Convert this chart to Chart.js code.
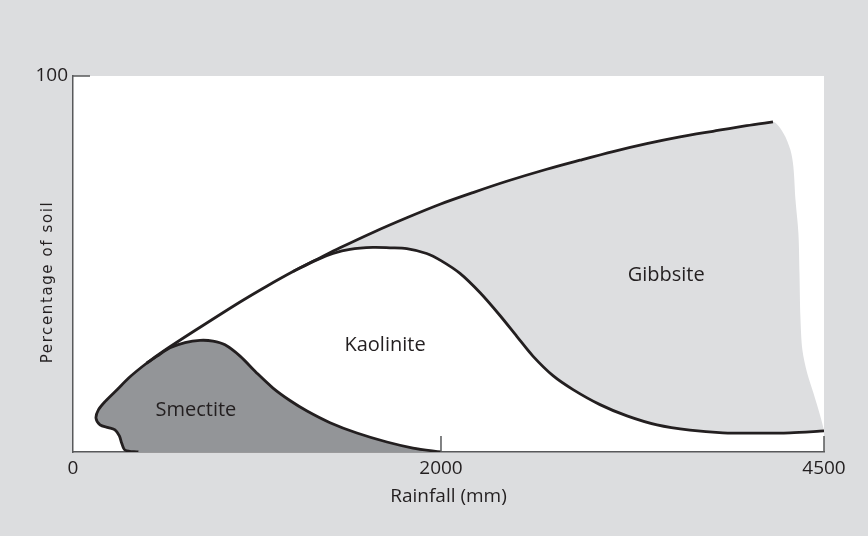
<!DOCTYPE html>
<html>
<head>
<meta charset="utf-8">
<title>Clay minerals and rainfall</title>
<script src="https://cdn.jsdelivr.net/npm/chart.js@4.4.1/dist/chart.umd.min.js"></script>
<style>
  html, body { margin: 0; padding: 0; background: #dcdddf; }
  canvas { display: block; }
</style>
</head>
<body>
<canvas id="canvas" width="868" height="536"></canvas>
<script>
// rainfall in mm (x), percentage of soil (y)
// outer boundary: starts at the foot of the smectite area, runs round the bump and up to the top right
const envelopeX = [355, 283, 265, 252, 228, 192, 147, 125, 138, 174, 238, 310, 400, 491, 663, 908, 1053, 1196, 1325, 1451, 1630, 1814, 1995, 2209, 2429, 2690, 2907, 3123, 3343, 3560, 3775, 3995, 4167];
const envelopeY = [0, 0.5, 2.3, 4.3, 5.9, 6.5, 7.2, 9.0, 11.2, 13.4, 16.5, 20.0, 23.6, 26.8, 32.3, 39.9, 44.1, 48.0, 51.2, 54.3, 58.4, 62.3, 65.9, 69.0, 72.0, 75.2, 77.6, 79.9, 82.0, 83.8, 85.3, 86.8, 87.8];

// smectite / kaolinite boundary
const smectiteX = [400, 457, 527, 609, 690, 761, 826, 908, 997, 1087, 1179, 1272, 1397, 1543, 1706, 1848, 2000];
const smectiteY = [23.6, 25.5, 27.7, 29.1, 29.7, 29.5, 28.5, 25.5, 21.1, 17.0, 13.7, 10.9, 7.8, 5.05, 2.66, 1.06, 0];

// kaolinite / gibbsite boundary
const kaoliniteX = [1196, 1325, 1413, 1505, 1630, 1723, 1814, 1922, 2000, 2124, 2254, 2385, 2496, 2600, 2731, 2862, 3038, 3214, 3410, 3625, 3840, 4063, 4278, 4500];
const kaoliniteY = [48.0, 51.1, 52.8, 53.9, 54.4, 54.3, 54.1, 52.8, 50.9, 47.5, 42.4, 36.3, 30.7, 25.5, 20.3, 16.6, 12.6, 9.6, 7.2, 5.8, 5.1, 5.0, 5.1, 5.6];

// ragged right edge of the gibbsite area (no line drawn)
const gibbsiteEdgeX = [4235, 4281, 4300, 4314, 4333, 4340, 4346, 4359, 4390, 4431, 4477, 4500];
const gibbsiteEdgeY = [84.8, 80.3, 75.9, 67.0, 58.2, 47.6, 36.0, 27.1, 21.0, 15.7, 9.4, 5.6];

const xTicks = [0, 2000, 4500];
const yTicks = [100];

const regionNames = ['Smectite', 'Kaolinite', 'Gibbsite'];
const regionX = [668, 1696, 3470];
const regionY = [11.2, 28.5, 47.1];

const ink = '#231f20';
const axisColor = '#58595b';

const toPoints = (xs, ys) => xs.map((x, i) => ({x: x, y: ys[i]}));

// the drawing's rainfall axis is not evenly spaced: 2000 sits a bit right of proportional
const xStops = [0, 2000, 4500];
const xStopFrac = [0, 0.49, 1];

class PiecewiseScale extends Chart.LinearScale {
  static id = 'piecewise';
  static defaults = Chart.LinearScale.defaults;
  getPixelForValue(value) {
    if (value === null || value === undefined) return NaN;
    let i = 1;
    while (i < xStops.length - 1 && value > xStops[i]) i++;
    const t = (value - xStops[i - 1]) / (xStops[i] - xStops[i - 1]);
    const f = xStopFrac[i - 1] + t * (xStopFrac[i] - xStopFrac[i - 1]);
    return this.getPixelForDecimal(f);
  }
  getValueForPixel(pixel) {
    const f = this.getDecimalForPixel(pixel);
    let i = 1;
    while (i < xStopFrac.length - 1 && f > xStopFrac[i]) i++;
    const t = (f - xStopFrac[i - 1]) / (xStopFrac[i] - xStopFrac[i - 1]);
    return xStops[i - 1] + t * (xStops[i] - xStops[i - 1]);
  }
}
Chart.register(PiecewiseScale);

const split = envelopeX.indexOf(smectiteX[0]);
const smectiteShape = toPoints(envelopeX.slice(0, split), envelopeY.slice(0, split))
  .concat(toPoints(smectiteX, smectiteY));

const join = envelopeX.indexOf(kaoliniteX[0]);
const gibbsiteShape = toPoints(envelopeX.slice(join), envelopeY.slice(join))
  .concat(toPoints(gibbsiteEdgeX, gibbsiteEdgeY))
  .concat(toPoints(kaoliniteX.slice(0, -1), kaoliniteY.slice(0, -1)).reverse());

const frame = {
  id: 'frame',
  beforeDraw(chart) {
    const {ctx, chartArea: a} = chart;
    ctx.save();
    ctx.fillStyle = '#dcdddf';
    ctx.fillRect(0, 0, chart.width, chart.height);
    ctx.fillStyle = '#ffffff';
    ctx.fillRect(a.left, a.top, a.right - a.left, a.bottom - a.top);
    ctx.restore();
  },
  afterDraw(chart) {
    const {ctx} = chart;
    const x = chart.scales.x, y = chart.scales.y;
    ctx.save();
    // inward ticks
    ctx.strokeStyle = axisColor;
    ctx.lineWidth = 1.5;
    ctx.beginPath();
    yTicks.forEach(v => {
      const py = y.getPixelForValue(v);
      ctx.moveTo(x.left, py);
      ctx.lineTo(x.left + 17, py);
    });
    xTicks.slice(1).forEach(v => {
      const px = x.getPixelForValue(v);
      ctx.moveTo(px, y.bottom);
      ctx.lineTo(px, y.bottom - 16);
    });
    ctx.stroke();

    // region names
    ctx.fillStyle = ink;
    ctx.font = '20px "Open Sans"';
    ctx.textAlign = 'center';
    ctx.textBaseline = 'middle';
    regionNames.forEach((n, i) => {
      ctx.fillText(n, x.getPixelForValue(regionX[i]), y.getPixelForValue(regionY[i]));
    });

    // y title, spaced out like the original
    ctx.translate(52, (y.top + y.bottom) / 2 + 18);
    ctx.rotate(-Math.PI / 2);
    ctx.font = '15px "DejaVu Sans"';
    ctx.letterSpacing = '1.6px';
    ctx.textBaseline = 'alphabetic';
    ctx.fillText('Percentage of soil', 0, 0);
    ctx.restore();
  }
};

const curve = {
  type: 'line',
  fill: false,
  borderColor: ink,
  borderWidth: 2.8,
  pointRadius: 0,
  tension: 0.3,
  order: 0
};

new Chart(document.getElementById('canvas'), {
  type: 'line',
  data: {
    datasets: [
      Object.assign({label: 'Upper limit', data: toPoints(envelopeX, envelopeY)}, curve),
      Object.assign({label: 'Smectite limit', data: toPoints(smectiteX, smectiteY)}, curve),
      Object.assign({label: 'Kaolinite limit', data: toPoints(kaoliniteX, kaoliniteY)}, curve),
      {
        label: 'Gibbsite',
        data: gibbsiteShape,
        fill: 'shape',
        backgroundColor: '#dddee0',
        borderColor: 'rgba(0,0,0,0)',
        borderWidth: 0,
        pointRadius: 0,
        tension: 0.3,
        order: 2
      },
      {
        label: 'Smectite',
        data: smectiteShape,
        fill: 'shape',
        backgroundColor: '#939598',
        borderColor: 'rgba(0,0,0,0)',
        borderWidth: 0,
        pointRadius: 0,
        tension: 0.3,
        order: 2
      }
    ]
  },
  options: {
    responsive: false,
    animation: false,
    events: [],
    layout: { padding: { left: 0, top: 76, right: 44, bottom: 0 } },
    plugins: {
      legend: { display: false },
      tooltip: { enabled: false }
    },
    scales: {
      x: {
        type: 'piecewise',
        min: 0,
        max: 4500,
        afterFit: s => { s.height = 84; },
        afterBuildTicks: s => { s.ticks = xTicks.map(v => ({value: v})); },
        grid: { display: false, drawTicks: false },
        border: { display: true, color: axisColor, width: 1.5 },
        ticks: {
          autoSkip: false,
          maxRotation: 0,
          padding: 5,
          color: ink,
          font: { family: 'Open Sans', size: 19 },
          callback: v => String(v)
        },
        title: {
          display: true,
          text: 'Rainfall (mm)',
          color: ink,
          font: { family: 'Open Sans', size: 19 },
          padding: { top: 0, bottom: 28 }
        }
      },
      y: {
        type: 'linear',
        min: 0,
        max: 100,
        afterFit: s => { s.width = 73; },
        afterBuildTicks: s => { s.ticks = yTicks.map(v => ({value: v})); },
        grid: { display: false, drawTicks: false },
        border: { display: true, color: axisColor, width: 1.5 },
        ticks: {
          padding: 5,
          color: ink,
          font: { family: 'Open Sans', size: 19 },
          callback: v => String(v)
        }
      }
    }
  },
  plugins: [frame]
});
</script>
</body>
</html>
